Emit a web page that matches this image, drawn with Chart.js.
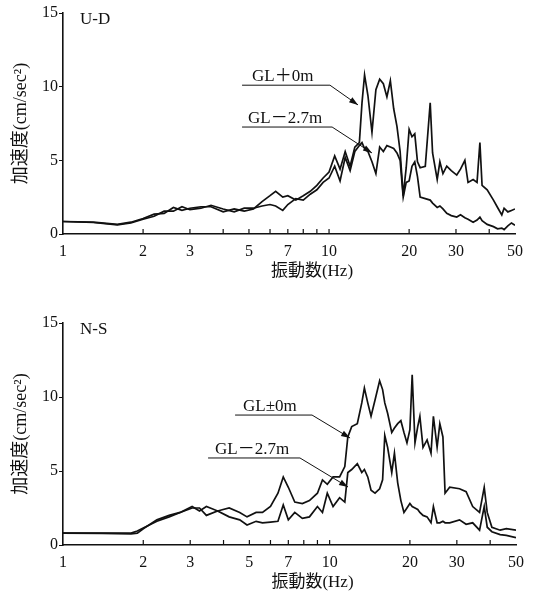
<!DOCTYPE html>
<html>
<head>
<meta charset="utf-8">
<script src="https://cdn.jsdelivr.net/npm/chart.js@4"></script>
<style>
  body { margin: 0; background: #fff; }
  .panel { position: absolute; left: 0; }
</style>
</head>
<body>
<div class="panel" style="top:0"><canvas id="ud" width="534" height="290"></canvas></div>
<div class="panel" style="top:297px"><canvas id="ns" width="534" height="300"></canvas></div>
<script>
// tick labels
const xLabels = [1, 2, 3, 5, 7, 10, 20, 30, 50];
const xTickMarks = [2, 3, 4, 5, 6, 7, 8, 9, 10, 20, 30, 40];

// U-D panel
const udFreq = [1, 1.3, 1.6, 1.8, 2, 2.2, 2.4, 2.6, 2.8, 3, 3.3, 3.6, 4, 4.4, 4.8, 5.2, 5.6, 6, 6.3, 6.7,
  7, 7.5, 8, 8.5, 9, 9.5, 10, 10.5, 11, 11.5, 12, 12.5, 13, 13.3, 13.6, 14, 14.5, 15, 15.5, 16,
  16.5, 17, 17.5, 18, 18.5, 19, 19.5, 20, 20.5, 21, 21.5, 22, 23, 24, 24.5, 25.5, 26.1, 26.8, 27.7, 28.8,
  30.2, 31.2, 32.4, 33.3, 34.8, 36, 36.9, 37.6, 39.3, 41.5, 43, 44.6, 45.5, 47, 48.5, 50];
const udGL0 = [0.85, 0.8, 0.65, 0.8, 1.05, 1.35, 1.4, 1.8, 1.6, 1.75, 1.85, 1.85, 1.5, 1.7, 1.55, 1.7, 2.2, 2.6, 2.9, 2.5,
  2.6, 2.3, 2.6, 2.9, 3.3, 3.8, 4.2, 5.3, 4.4, 5.6, 4.6, 5.9, 6.2, 8.9, 10.8, 9.4, 6.9, 9.8, 10.5, 10.2,
  9.3, 10.4, 8.5, 7.3, 5.6, 2.6, 4.5, 7.1, 6.6, 6.8, 4.9, 4.5, 4.6, 8.9, 5.5, 3.7, 4.9, 4.1, 4.6, 4.3,
  4.0, 4.4, 5.0, 3.5, 3.7, 3.5, 6.2, 3.3, 3.0, 2.3, 1.8, 1.3, 1.75, 1.5, 1.6, 1.7];
const udGL27 = [0.85, 0.78, 0.62, 0.75, 1.0, 1.2, 1.55, 1.55, 1.85, 1.65, 1.75, 1.95, 1.7, 1.5, 1.75, 1.75, 1.9, 2.0, 1.9, 1.6,
  2.0, 2.4, 2.3, 2.7, 3.0, 3.5, 3.8, 4.6, 3.6, 5.2, 4.3, 5.6, 6.0, 6.2, 5.8, 5.6, 4.9, 4.1, 5.9, 5.6,
  6.0, 5.9, 5.8, 5.5, 5.0, 2.5, 3.5, 3.6, 4.6, 4.9, 3.9, 2.5, 2.4, 2.3, 2.1, 1.8, 1.9, 1.7, 1.4, 1.25,
  1.15, 1.3, 1.1, 1.0, 0.8, 0.95, 1.15, 0.9, 0.65, 0.5, 0.35, 0.4, 0.3, 0.55, 0.75, 0.6];

// N-S panel
const nsFreq = [1, 1.4, 1.8, 1.9, 2, 2.25, 2.5, 2.75, 3.05, 3.25, 3.45, 3.8, 4.2, 4.6, 4.9, 5.3, 5.6, 6, 6.4, 6.7,
  7, 7.4, 7.9, 8.4, 9, 9.4, 9.8, 10.3, 10.9, 11.4, 11.7, 12.1, 12.7, 13.2, 13.5, 13.9, 14.3, 14.8, 15.4, 15.8,
  16.1, 16.5, 17.1, 17.5, 18, 18.5, 19, 19.5, 20, 20.4, 20.9, 21.4, 21.8, 22.4, 23.2, 24, 24.5, 25.3, 25.9, 26.6,
  27.1, 28.2, 30.7, 32.5, 34.4, 36.5, 38, 39, 40.6, 43.6, 46, 50];
const nsGL0 = [0.8, 0.8, 0.8, 0.95, 1.15, 1.6, 1.9, 2.2, 2.6, 2.3, 2.6, 2.3, 2.5, 2.2, 1.9, 2.2, 2.2, 2.6, 3.5, 4.6,
  3.9, 2.9, 2.8, 3.0, 3.5, 4.4, 4.1, 4.6, 4.6, 5.3, 7.3, 8.0, 8.2, 9.6, 10.6, 9.6, 8.7, 9.8, 11.1, 10.5,
  9.6, 8.9, 7.6, 7.9, 8.2, 8.4, 7.6, 6.9, 7.8, 11.5, 6.9, 8.0, 8.7, 6.6, 7.1, 6.2, 8.7, 6.6, 8.2, 7.3,
  3.5, 3.9, 3.8, 3.6, 2.6, 2.2, 3.9, 2.2, 1.2, 1.0, 1.1, 1.0];
const nsGL27 = [0.8, 0.78, 0.75, 0.8, 1.1, 1.7, 2.0, 2.2, 2.5, 2.5, 2.0, 2.3, 1.9, 1.7, 1.35, 1.6, 1.5, 1.55, 1.6, 2.7,
  1.7, 2.2, 1.8, 1.9, 2.6, 2.2, 3.5, 2.6, 3.2, 2.9, 4.9, 5.1, 5.5, 4.9, 5.1, 4.6, 3.7, 3.5, 3.8, 4.4,
  7.4, 6.6, 4.9, 6.2, 4.2, 3.0, 2.2, 2.5, 2.8, 2.6, 2.5, 2.4, 2.2, 2.0, 1.9, 1.5, 2.6, 1.5, 1.5, 1.6,
  1.5, 1.5, 1.7, 1.4, 1.5, 1.0, 2.6, 1.2, 0.9, 0.7, 0.65, 0.5];

const SERIF = "'Liberation Serif', 'Noto Sans CJK JP', serif";
const INK = '#111';

// leader: [label, underline start Hz, underline end Hz, underline value, tip Hz, tip value, text offset px]
const udLeaders = [
  ['GL＋0m', 4.71, 10.08, 10.1, 12.85, 8.76, 10],
  ['GL－2.7m', 4.71, 10.27, 7.26, 14.5, 5.5, 6]
];
const nsLeaders = [
  ['GL±0m', 4.42, 8.59, 8.78, 11.93, 7.23, 8],
  ['GL－2.7m', 3.5, 7.74, 5.88, 11.72, 3.92, 7]
];

const extras = {
  id: 'extras',
  afterDraw(chart, args, o) {
    const { ctx, chartArea: a, scales: { x, y } } = chart;
    ctx.save();
    ctx.strokeStyle = INK;
    ctx.fillStyle = INK;
    // inward ticks on x axis
    ctx.lineWidth = 1.2;
    xTickMarks.forEach(v => {
      const px = x.getPixelForValue(v);
      ctx.beginPath(); ctx.moveTo(px, a.bottom); ctx.lineTo(px, a.bottom - 5); ctx.stroke();
    });
    // panel label
    ctx.font = '17px ' + SERIF;
    ctx.textBaseline = 'middle';
    ctx.textAlign = 'left';
    ctx.fillText(o.label, a.left + 17, a.top + 7);
    // x title
    ctx.font = '17px ' + SERIF;
    ctx.textAlign = 'center';
    ctx.fillText('振動数(Hz)', (a.left + a.right) / 2 + 23, a.bottom + 38);
    // leaders
    o.leaders.forEach(([txt, f0, f1, v, ft, vt, off]) => {
      const x0 = x.getPixelForValue(f0), x1 = x.getPixelForValue(f1), yy = y.getPixelForValue(v);
      const xt = x.getPixelForValue(ft), yt = y.getPixelForValue(vt);
      ctx.lineWidth = 1;
      ctx.beginPath(); ctx.moveTo(x0, yy); ctx.lineTo(x1, yy); ctx.lineTo(xt, yt); ctx.stroke();
      const ang = Math.atan2(yt - yy, xt - x1);
      ctx.beginPath();
      ctx.moveTo(xt, yt);
      ctx.lineTo(xt - 9 * Math.cos(ang) + 3 * Math.sin(ang), yt - 9 * Math.sin(ang) - 3 * Math.cos(ang));
      ctx.lineTo(xt - 9 * Math.cos(ang) - 3 * Math.sin(ang), yt - 9 * Math.sin(ang) + 3 * Math.cos(ang));
      ctx.closePath(); ctx.fill();
      ctx.font = '17px ' + SERIF;
      ctx.textAlign = 'left';
      ctx.textBaseline = 'alphabetic';
      ctx.fillText(txt, x0 + off, yy - 4);
    });
    ctx.restore();
  }
};

function makePanel(id, freq, s0, s1, label, leaders, pad, xHeight) {
  const line = (vals) => ({
    data: freq.map((f, i) => ({ x: f, y: vals[i] })),
    borderColor: INK, borderWidth: 1.7, pointRadius: 0, tension: 0, fill: false
  });
  return new Chart(document.getElementById(id), {
    type: 'line',
    data: { datasets: [line(s0), line(s1)] },
    plugins: [extras],
    options: {
      responsive: false, animation: false, devicePixelRatio: 1,
      layout: { padding: pad },
      plugins: { legend: { display: false }, tooltip: { enabled: false }, extras: { label, leaders } },
      scales: {
        x: {
          type: 'logarithmic', min: 1, max: 50,
          afterBuildTicks: s => { s.ticks = xLabels.map(v => ({ value: v })); },
          afterFit: s => { s.height = xHeight; },
          grid: { display: false },
          border: { display: true, color: INK, width: 1.6 },
          ticks: { autoSkip: false, maxRotation: 0, padding: 0, color: INK, font: { family: SERIF, size: 16 },
            callback: v => String(v) }
        },
        y: {
          min: 0, max: 15,
          afterFit: s => { s.width = 63; },
          grid: { drawOnChartArea: false, drawTicks: true, tickLength: 4, color: INK },
          border: { display: true, color: INK, width: 1.6 },
          ticks: { stepSize: 5, padding: 1, color: INK, font: { family: SERIF, size: 16 } },
          title: { display: true, text: '加速度(cm/sec²)', color: INK, font: { family: SERIF, size: 18 }, padding: { top: 10, bottom: 0 } }
        }
      }
    }
  });
}

makePanel('ud', udFreq, udGL0, udGL27, 'U-D', udLeaders, { top: 13, right: 19, left: 0, bottom: 0 }, 56);
makePanel('ns', nsFreq, nsGL0, nsGL27, 'N-S', nsLeaders, { top: 26, right: 18, left: 0, bottom: 0 }, 52);
</script>
</body>
</html>
